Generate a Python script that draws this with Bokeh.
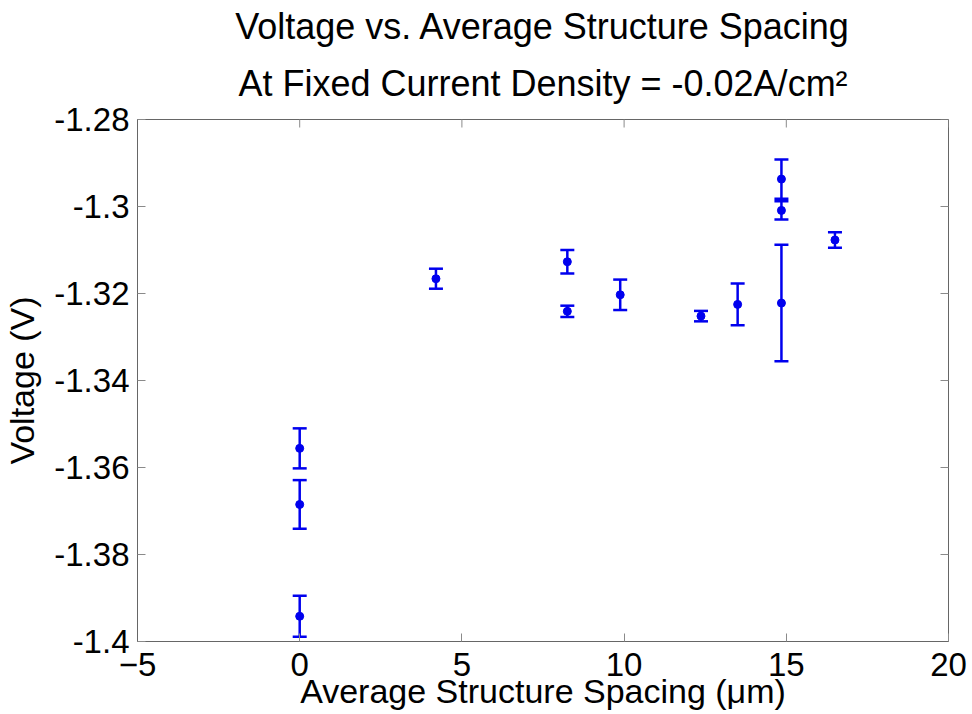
import math
from bokeh.plotting import figure
from bokeh.models import (ColumnDataSource, Whisker, TeeHead, Range1d, FixedTicker, Title)
from bokeh.embed import file_html
from bokeh.resources import INLINE

# ---- data ----
spacing = [0, 0, 0, 4.2, 8.25, 8.25, 9.88, 12.37, 13.5, 14.85, 14.85, 14.85, 16.5]
voltage = [-1.3556, -1.3685, -1.3942, -1.3166, -1.3127, -1.3241, -1.3203,
           -1.3252, -1.3225, -1.3222, -1.2937, -1.3009, -1.3077]
error = [0.0046, 0.0056, 0.0047, 0.0023, 0.0027, 0.0013, 0.0035,
         0.0012, 0.0048, 0.0134, 0.0045, 0.0021, 0.0018]

x_ticks = [-5, 0, 5, 10, 15, 20]
y_ticks = [-1.4, -1.38, -1.36, -1.34, -1.32, -1.3, -1.28]
y_tick_labels = ["-1.4", "-1.38", "-1.36", "-1.34", "-1.32", "-1.3", "-1.28"]
x_limits = (-5, 20)
y_limits = (-1.4, -1.28)

title_line1 = "Voltage vs. Average Structure Spacing"
title_line2 = "At Fixed Current Density = -0.02A/cm\u00b2"
x_label = "Average Structure Spacing (\u03bcm)"
y_label = "Voltage (V)"

FONT = "Liberation Sans"
BLUE = "#0000ee"
AXIS_GREY = "#666666"
TICK_GREY = "#8a8a8a"

lower = [v - e for v, e in zip(voltage, error)]
upper = [v + e for v, e in zip(voltage, error)]
src = ColumnDataSource(dict(x=spacing, y=voltage, lower=lower, upper=upper))

p = figure(width=972, height=714, output_backend="svg", toolbar_location=None,
           x_range=Range1d(*x_limits), y_range=Range1d(*y_limits),
           min_border_left=136, min_border_right=24, min_border_top=119,
           min_border_bottom=73)
p.title.text = ""
p.title.visible = False

p.background_fill_color = "white"
p.border_fill_color = "white"
p.outline_line_color = AXIS_GREY
p.outline_line_width = 1
p.xgrid.visible = False
p.ygrid.visible = False

# titles (first added is closest to the plot)
t2 = Title(text=title_line2, align="center", text_font=FONT, text_font_size="36px",
           text_font_style="normal", text_color="black", standoff=31)
t1 = Title(text=title_line1, align="center", text_font=FONT, text_font_size="36px",
           text_font_style="normal", text_color="black", standoff=-2)
p.add_layout(t2, "above")
p.add_layout(t1, "above")

# tick marks along the top and right edges (half clipped by the frame)
p.scatter(x=x_ticks, y=[y_limits[1]] * len(x_ticks), marker="dash", size=16,
          angle=math.pi / 2, line_color=TICK_GREY, line_width=1)
p.scatter(x=[x_limits[1]] * len(y_ticks), y=y_ticks, marker="dash", size=16,
          angle=0, line_color=TICK_GREY, line_width=1)

# error bars
whisk = Whisker(source=src, base="x", lower="lower", upper="upper",
                line_color=BLUE, line_width=2.5,
                lower_head=TeeHead(size=14, line_color=BLUE, line_width=2.5),
                upper_head=TeeHead(size=14, line_color=BLUE, line_width=2.5))
p.add_layout(whisk)
p.scatter("x", "y", source=src, size=8, marker="circle", fill_color=BLUE,
          line_color=BLUE)

# main axes
xa = p.xaxis[0]
ya = p.yaxis[0]
xa.ticker = FixedTicker(ticks=x_ticks)
ya.ticker = FixedTicker(ticks=y_ticks)
ya.major_label_overrides = {t: s for t, s in zip(y_ticks, y_tick_labels)}
for ax in (xa, ya):
    ax.axis_line_color = AXIS_GREY
    ax.major_tick_in = 8
    ax.major_tick_out = 0
    ax.major_tick_line_color = TICK_GREY
    ax.minor_tick_line_color = None
    ax.major_label_text_font = FONT
    ax.major_label_text_font_size = "33px"
    ax.major_label_text_color = "black"
    ax.axis_label_text_font = FONT
    ax.axis_label_text_font_size = "34px"
    ax.axis_label_text_font_style = "normal"
    ax.axis_label_text_color = "black"
xa.axis_label = x_label
ya.axis_label = y_label
xa.major_label_standoff = 11
xa.axis_label_standoff = -7
ya.major_label_standoff = 8
ya.axis_label_standoff = 10

open("out.html", "w").write(file_html(p, INLINE))
